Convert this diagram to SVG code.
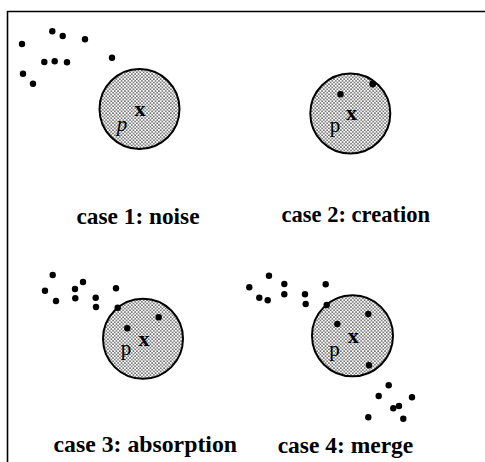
<svg xmlns="http://www.w3.org/2000/svg" width="485" height="462" viewBox="0 0 485 462">
<style>
.frame{stroke:#000;stroke-width:1.6;fill:none}
.disc{fill:url(#stip);stroke:#000;stroke-width:2}
.pt{fill:#000}
.lbl{font-family:"Liberation Serif","Times New Roman",serif;font-weight:bold;font-size:23.5px;fill:#000}
.px{font-family:"Liberation Serif","Times New Roman",serif;font-weight:bold;font-size:22px;fill:#000}
.pp{font-family:"Liberation Serif","Times New Roman",serif;font-size:21px;fill:#000}
</style>
<defs>
<pattern id="stip" width="3.4" height="3.4" patternUnits="userSpaceOnUse">
<rect width="3.4" height="3.4" fill="#fff"/>
<circle cx="0.85" cy="0.85" r="0.72" fill="#000"/>
<circle cx="2.55" cy="2.55" r="0.72" fill="#000"/>
</pattern>
</defs>
<g id="frame">
<line class="frame" x1="7" y1="11.5" x2="485" y2="11.5"/>
<line class="frame" x1="7.5" y1="11" x2="7.5" y2="462"/>
</g>
<g id="connectors"></g>
<g id="case1">
<circle class="disc" cx="139.5" cy="109" r="40"/>
<text class="px" x="140" y="116" text-anchor="middle">x</text>
<text class="pp" x="122" y="131" text-anchor="middle" font-style="italic">p</text>
<g class="pt">
<circle cx="22" cy="44" r="3.2"/><circle cx="52.3" cy="31.3" r="3.2"/><circle cx="62.7" cy="36" r="3.2"/>
<circle cx="85" cy="39.3" r="3.2"/><circle cx="44.3" cy="62" r="3.2"/><circle cx="54.7" cy="61.3" r="3.2"/>
<circle cx="67" cy="62.3" r="3.2"/><circle cx="112" cy="57.7" r="3.2"/><circle cx="23" cy="73.7" r="3.2"/>
<circle cx="33" cy="83.7" r="3.2"/>
</g>
<text class="lbl" x="76.5" y="224" textLength="123" lengthAdjust="spacingAndGlyphs">case 1: noise</text>
</g>
<g id="case2">
<circle class="disc" cx="350.3" cy="113.5" r="40"/>
<text class="px" x="351.5" y="120" text-anchor="middle">x</text>
<text class="pp" x="335" y="132" text-anchor="middle">p</text>
<g class="pt">
<circle cx="340.5" cy="94.3" r="3.2"/><circle cx="372.7" cy="84" r="3.4"/>
</g>
<text class="lbl" x="281.5" y="221.5" textLength="148.5" lengthAdjust="spacingAndGlyphs">case 2: creation</text>
</g>
<g id="case3">
<circle class="disc" cx="143" cy="338.8" r="40"/>
<text class="px" x="144" y="346" text-anchor="middle">x</text>
<text class="pp" x="126" y="355" text-anchor="middle">p</text>
<g class="pt">
<circle cx="52.7" cy="275" r="3.2"/><circle cx="45" cy="290.7" r="3.2"/><circle cx="56" cy="301" r="3.2"/>
<circle cx="75" cy="289" r="3.2"/><circle cx="83" cy="282" r="3.2"/><circle cx="75.3" cy="298.3" r="3.2"/>
<circle cx="95.7" cy="297.7" r="3.2"/><circle cx="96" cy="307" r="3.2"/><circle cx="116" cy="288.3" r="3.2"/>
<circle cx="117.7" cy="307.7" r="3.2"/><circle cx="127.3" cy="328.3" r="3.2"/><circle cx="158.7" cy="317.3" r="3.2"/>
</g>
<text class="lbl" x="53.5" y="451.5" textLength="183.5" lengthAdjust="spacingAndGlyphs">case 3: absorption</text>
</g>
<g id="case4">
<circle class="disc" cx="352.5" cy="335.8" r="40.5"/>
<text class="px" x="353.3" y="343" text-anchor="middle">x</text>
<text class="pp" x="334.5" y="356" text-anchor="middle">p</text>
<g class="pt">
<circle cx="249.3" cy="287.3" r="3.2"/><circle cx="269" cy="275.7" r="3.2"/><circle cx="259.3" cy="297.7" r="3.2"/>
<circle cx="267.7" cy="300.3" r="3.2"/><circle cx="284.3" cy="284" r="3.2"/><circle cx="284.3" cy="294.3" r="3.2"/>
<circle cx="305" cy="294.3" r="3.2"/><circle cx="305.7" cy="304" r="3.2"/><circle cx="325.7" cy="284.3" r="3.2"/>
<circle cx="326.7" cy="305" r="3.2"/><circle cx="337.3" cy="324" r="3.2"/><circle cx="368.3" cy="314" r="3.2"/>
<circle cx="369" cy="365.3" r="3.2"/><circle cx="388.7" cy="385.3" r="3.2"/><circle cx="378.7" cy="396" r="3.2"/>
<circle cx="412" cy="397.3" r="3.2"/><circle cx="393.3" cy="408.3" r="3.2"/><circle cx="399" cy="406" r="3.2"/>
<circle cx="368.3" cy="417.3" r="3.2"/><circle cx="403.3" cy="418.7" r="3.2"/>
</g>
<text class="lbl" x="277.7" y="453" textLength="135.6" lengthAdjust="spacingAndGlyphs">case 4: merge</text>
</g>
</svg>
